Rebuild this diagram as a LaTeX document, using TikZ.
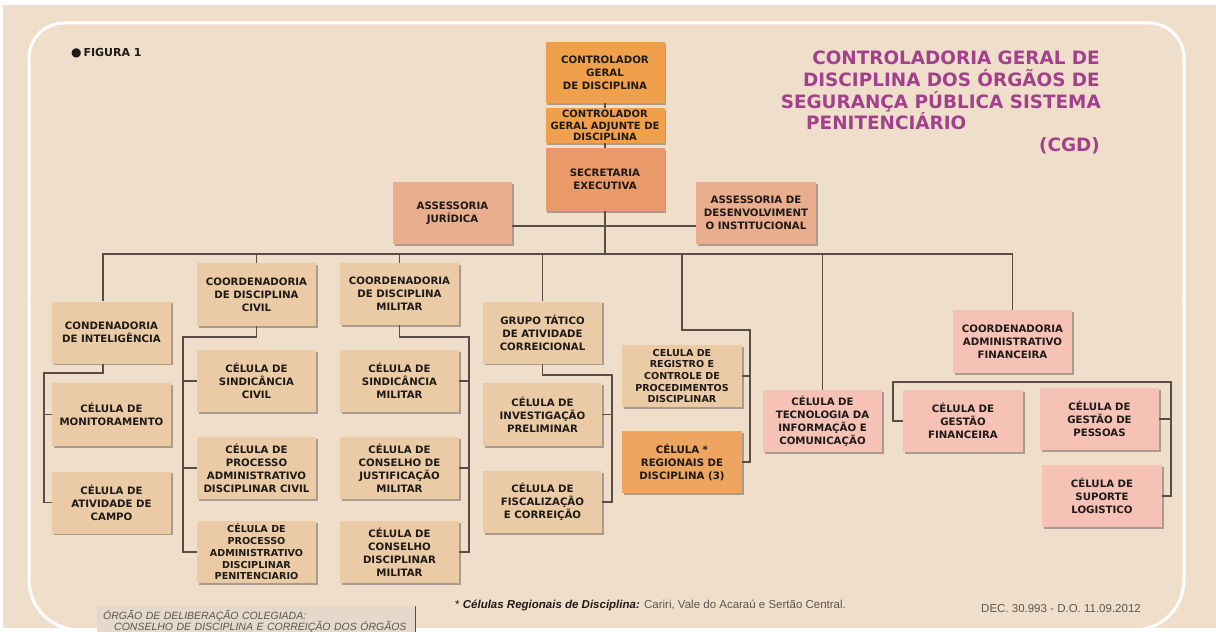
\documentclass[tikz,border=0pt]{standalone}
\usepackage{fontspec}
\setmainfont{DejaVu Sans}
\newfontfamily\arialfont{Liberation Sans}
\usepackage{xcolor}
\usetikzlibrary{shadows}

\definecolor{fundo}{HTML}{EFDFCA}
\definecolor{bege}{HTML}{EBCBA5}
\definecolor{laranja}{HTML}{F09F4A}
\definecolor{secret}{HTML}{EA9A68}
\definecolor{assess}{HTML}{E8AE8D}
\definecolor{regional}{HTML}{EDA560}
\definecolor{rosa}{HTML}{F6C2B6}
\definecolor{roxo}{HTML}{A3408E}
\definecolor{linhacor}{HTML}{5A4D47}
\definecolor{sombra}{HTML}{9A8B7F}
\definecolor{texto}{HTML}{1E1A18}
\definecolor{cinzatexto}{HTML}{5C5550}
\definecolor{cinza}{HTML}{E4D9CB}

\begin{document}
\begin{tikzpicture}[x=1pt,y=-1pt,
		caixa/.style={fill=#1, minimum width=119pt, minimum height=62pt, inner sep=1pt,
			align=center, text=texto, font=\fontsize{10.2}{13}\selectfont\bfseries,
			drop shadow={shadow xshift=1.8pt, shadow yshift=-1.8pt, fill=sombra, opacity=0.8}},
		caixa/.default=bege,
		apertado/.style={font=\fontsize{9.6}{11.7}\selectfont\bfseries},
		titulo/.style={inner sep=0pt, text=roxo, font=\fontsize{18.4}{21.5}\selectfont\bfseries},
		linha/.style={draw=linhacor, line width=1.9pt},
		moldura/.style={draw=white, line width=3pt}]
	
	% Fundo
	\fill[white] (0,0) rectangle (1216,628);
	\fill[fundo] (3,5) rectangle (1216,628);
	\draw[moldura, rounded corners=35pt] (29,300) |- (1184,23) -- (1184,300);
	\draw[moldura, rounded corners=50pt] (29,299) |- (1184,630) -- (1184,299);
	\useasboundingbox (0,0) rectangle (1216,628);
	
	% Titulo
	\node[anchor=west, inner sep=0pt, text=texto, font=\fontsize{11}{13}\selectfont\bfseries] (figura) at (71,53) {{\fontsize{12}{12}\selectfont ●}\,FIGURA 1};
	\node[titulo, anchor=base east] (tit1) at (1100,64.5) {CONTROLADORIA GERAL DE};
	\node[titulo, anchor=base east] (tit2) at (1100,86.5) {DISCIPLINA DOS ÓRGÃOS DE};
	\node[titulo, anchor=base east] (tit3) at (1101,108) {SEGURANÇA PÚBLICA SISTEMA};
	\node[titulo, anchor=base west] (tit4) at (806,129.5) {PENITENCIÁRIO};
	\node[titulo, anchor=base east] (sigla) at (1100,151.5) {(CGD)};
	
	% Direcao
	\node[caixa=laranja, minimum height=61pt] (contr) at (605,72.5) {CONTROLADOR\\GERAL\\DE DISCIPLINA};
	\node[caixa=laranja, minimum height=35pt, inner sep=0pt, font=\fontsize{10}{11.8}\selectfont\bfseries] (adj) at (605,125.5) {CONTROLADOR\\GERAL ADJUNTE DE\\DISCIPLINA};
	\node[caixa=secret, minimum height=63pt] (secr) at (605,179.5) {SECRETARIA\\EXECUTIVA};
	\node[caixa=assess] (asjur) at (452.5,213) {ASSESSORIA\\JURÍDICA};
	\node[caixa=assess, minimum width=120pt] (asdes) at (756,213) {ASSESSORIA DE\\DESENVOLVIMENT\\O INSTITUCIONAL};
	
	% Inteligencia
	\node[caixa] (intel) at (111.5,332.5) {CONDENADORIA\\DE INTELIGÊNCIA};
	\node[caixa, minimum height=63pt] (monit) at (111.5,414.5) {CÉLULA DE\\MONITORAMENTO};
	\node[caixa] (campo) at (111.5,502.5) {CÉLULA DE\\ATIVIDADE DE\\CAMPO};
	
	% Disciplina civil
	\node[caixa, minimum height=63pt] (cciv) at (256.5,294.5) {COORDENADORIA\\DE DISCIPLINA\\CIVIL};
	\node[caixa] (sciv) at (256.5,381) {CÉLULA DE\\SINDICÂNCIA\\CIVIL};
	\node[caixa] (pciv) at (256.5,468) {CÉLULA DE\\PROCESSO\\ADMINISTRATIVO\\DISCIPLINAR CIVIL};
	\node[caixa, apertado] (ppen) at (256.5,552) {CÉLULA DE\\PROCESSO\\ADMINISTRATIVO\\DISCIPLINAR\\PENITENCIARIO};
	
	% Disciplina militar
	\node[caixa] (cmil) at (399.5,294) {COORDENADORIA\\DE DISCIPLINA\\MILITAR};
	\node[caixa] (smil) at (399.5,381) {CÉLULA DE\\SINDICÂNCIA\\MILITAR};
	\node[caixa] (jmil) at (399.5,468) {CÉLULA DE\\CONSELHO DE\\JUSTIFICAÇÃO\\MILITAR};
	\node[caixa] (dmil) at (399.5,552) {CÉLULA DE\\CONSELHO\\DISCIPLINAR\\MILITAR};
	
	% Grupo tatico
	\node[caixa] (grupo) at (542.5,332.5) {GRUPO TÁTICO\\DE ATIVIDADE\\CORREICIONAL};
	\node[caixa, minimum height=63pt] (inv) at (542.5,414.5) {CÉLULA DE\\INVESTIGAÇÃO\\PRELIMINAR};
	\node[caixa] (fisc) at (542.5,502) {CÉLULA DE\\FISCALIZAÇÃO\\E CORREIÇÃO};
	
	% Registro e regionais
	\node[caixa, apertado, minimum width=120pt] (regis) at (682,376) {CELULA DE\\REGISTRO E\\CONTROLE DE\\PROCEDIMENTOS\\DISCIPLINAR};
	\node[caixa=regional, minimum width=120pt] (regio) at (682,462) {CÉLULA *\\REGIONAIS DE\\DISCIPLINA (3)};
	
	% Tecnologia e administrativo
	\node[caixa=rosa] (tic) at (822.5,421) {CÉLULA DE\\TECNOLOGIA DA\\INFORMAÇÃO E\\COMUNICAÇÃO};
	\node[caixa=rosa, minimum height=63pt] (cadm) at (1012.5,341.5) {COORDENADORIA\\ADMINISTRATIVO\\FINANCEIRA};
	\node[caixa=rosa, minimum width=120pt] (gfin) at (963,421) {CÉLULA DE\\GESTÃO\\FINANCEIRA};
	\node[caixa=rosa] (gpes) at (1099.5,419) {CÉLULA DE\\GESTÃO DE\\PESSOAS};
	\node[caixa=rosa, minimum width=120pt] (suporte) at (1102,496) {CÉLULA DE\\SUPORTE\\LOGISTICO};
	
	% Ligacoes
	\coordinate (barra) at (605,254);
	\draw[linha] (contr.south) -- (adj.north);
	\draw[linha] (adj.south) -- (secr.north);
	\draw[linha] (secr.south) -- (barra);
	\draw[linha] ([yshift=-13pt]asjur.east) -- ([yshift=-13pt]asdes.west);
	\draw[linha] ([xshift=-8.5pt]intel.north) |- (barra) -| (cadm.north);
	\foreach \n in {cciv,cmil,grupo,tic}
		\draw[linha] (barra -| \n.north) -- (\n.north);
	
	\coordinate (e1) at (44,373);
	\draw[linha] ([xshift=-8.5pt]intel.south) |- (e1) |- (campo.west);
	\draw[linha] (e1 |- monit.west) -- (monit.west);
	
	\coordinate (c1) at (183,337);
	\draw[linha] (cciv.south) |- (c1) |- (ppen.west);
	\foreach \n in {sciv,pciv}
		\draw[linha] (c1 |- \n.west) -- (\n.west);
	
	\coordinate (m1) at (469,337);
	\draw[linha] (cmil.south) |- (m1) |- (dmil.east);
	\foreach \n in {smil,jmil}
		\draw[linha] (m1 |- \n.east) -- (\n.east);
	
	\coordinate (g1) at (612,375);
	\draw[linha] (grupo.south) |- (g1) |- (fisc.east);
	\draw[linha] (g1 |- inv.east) -- (inv.east);
	
	\coordinate (r1) at (750,330);
	\draw[linha] (barra -| regis.north) |- (r1) |- (regio.east);
	\draw[linha] (r1 |- regis.east) -- (regis.east);
	
	\coordinate (a1) at (893,382);
	\coordinate (a2) at (1171,382);
	\draw[linha] (gfin.west) -| (a1) -- (a2) |- (suporte.east);
	\draw[linha] (a2 |- gpes.east) -- (gpes.east);
	
	% Notas
	\node[anchor=west, inner sep=0pt, text=cinzatexto, font=\arialfont\fontsize{11.5}{13}\selectfont] (nota) at (455,605) {\textcolor{texto}{* \textbf{\textit{Células Regionais de Disciplina:}}} Cariri, Vale do Acaraú e Sertão Central.};
	\node[anchor=east, inner sep=0pt, text=cinzatexto, font=\arialfont\fontsize{11.5}{13}\selectfont] (dec) at (1141,609) {DEC. 30.993 - D.O. 11.09.2012};
	\node[anchor=north west, fill=cinza, inner xsep=0pt, inner ysep=4pt, text width=318pt, align=left, text=cinzatexto, font=\arialfont\itshape\fontsize{10.5}{11.5}\selectfont] (orgao) at (97,606) {\hspace*{6pt}ÓRGÃO DE DELIBERAÇÃO COLEGIADA:\\\hspace*{17pt}CONSELHO DE DISCIPLINA E CORREIÇÃO DOS ÓRGÃOS};
	\draw[linhacor, line width=1.8pt] (orgao.north east) -- (orgao.south east);
	
\end{tikzpicture}
\end{document}
